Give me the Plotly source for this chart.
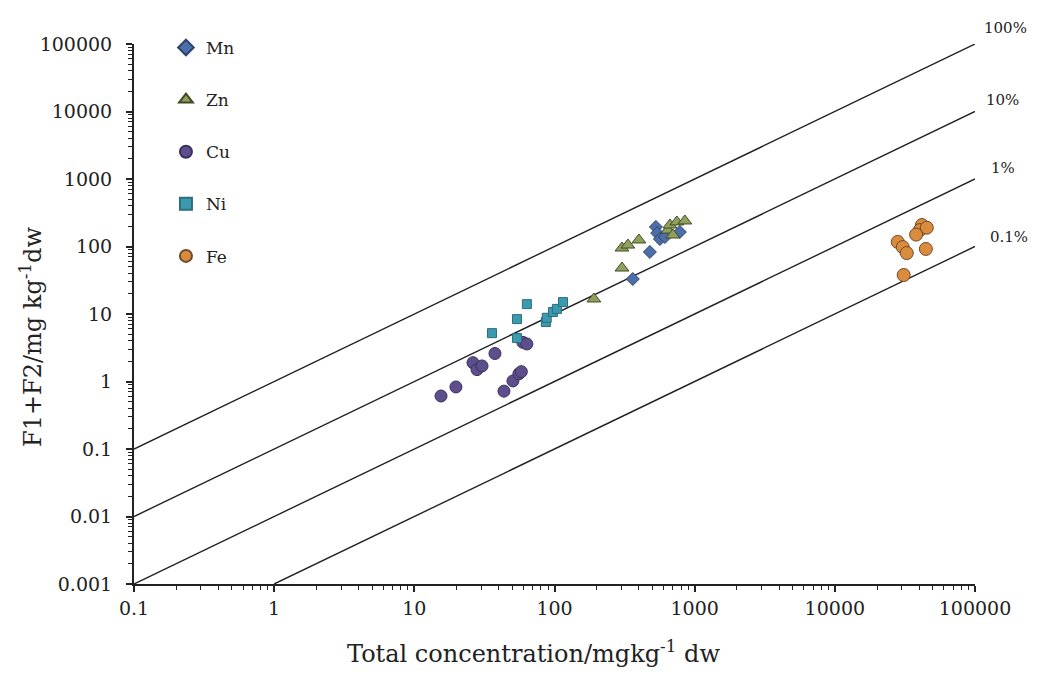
import math
import plotly.graph_objects as go

# ---- data ----
mn_x = [362, 479, 529, 540, 565, 613, 784]
mn_y = [33, 83, 195, 158, 129, 138, 164]

zn_x = [191, 303, 303, 334, 400, 644, 666, 699, 746, 851]
zn_y = [16.7, 48, 95, 105, 125, 175, 208, 148, 231, 239]

cu_x = [15.5, 19.8, 26.2, 28, 30.4, 37.6, 43.6, 50.5, 55.7, 58, 59.5, 63.5]
cu_y = [0.61, 0.83, 1.9, 1.5, 1.7, 2.6, 0.72, 1.02, 1.3, 1.4, 3.8, 3.6]

ni_x = [35.8, 54, 54, 63.5, 86.8, 88, 97.5, 104, 115]
ni_y = [5.2, 8.4, 4.4, 14, 7.6, 8.8, 10.7, 11.9, 15]

fe_x = [41800, 40400, 45300, 38000, 28100, 30500, 32600, 44600, 31000]
fe_y = [208, 175, 190, 150, 117, 98, 80, 92, 37.8]

pct_values = [100, 10, 1, 0.1]
pct_labels = ["100%", "10%", "1%", "0.1%"]

x_ticks = [0.1, 1, 10, 100, 1000, 10000, 100000]
x_ticktext = ["0.1", "1", "10", "100", "1000", "10000", "100000"]
y_ticks = [0.001, 0.01, 0.1, 1, 10, 100, 1000, 10000, 100000]
y_ticktext = ["0.001", "0.01", "0.1", "1", "10", "100", "1000", "10000", "100000"]

x_title = "Total concentration/mgkg<sup>-1</sup> dw"
y_title = "F1+F2/mg kg<sup>-1</sup>dw"

x_min, x_max = 0.1, 100000
y_min = 0.001

serif = "DejaVu Serif"
ink = "#222222"

fig = go.Figure()

# reference lines
for p in pct_values:
    frac = p / 100.0
    x0 = max(x_min, y_min / frac)
    xs = [x0, x_max]
    ys = [x * frac for x in xs]
    fig.add_trace(go.Scatter(x=xs, y=ys, mode="lines",
                             line=dict(color=ink, width=1.4),
                             showlegend=False, hoverinfo="skip"))

series = [
    ("Mn", mn_x, mn_y, "diamond", "#4D6FA8", "#2E4470", 10),
    ("Zn", zn_x, zn_y, "triangle-up", "#8FA15C", "#404A25", 12),
    ("Cu", cu_x, cu_y, "circle", "#5E4F8C", "#3A3060", 12),
    ("Ni", ni_x, ni_y, "square", "#3C9AAE", "#2B6E7E", 9),
    ("Fe", fe_x, fe_y, "circle", "#D98B3E", "#6E4A2A", 13),
]
for name, xs, ys, sym, col, edge, sz in series:
    fig.add_trace(go.Scatter(x=xs, y=ys, mode="markers", name=name,
                             legendgroup=name,
                             marker=dict(symbol=sym, color=col, size=sz,
                                         line=dict(color=edge, width=1))))

# percentage labels next to line ends
shifts = [(30, 16), (27, 12), (28, 11), (34, 10)]
for p, lab, (dx, dy) in zip(pct_values, pct_labels, shifts):
    fig.add_annotation(x=math.log10(x_max), y=math.log10(x_max * p / 100),
                       xref="x", yref="y", text=lab, showarrow=False,
                       xshift=dx, yshift=dy,
                       font=dict(family=serif, size=15, color=ink))

# axis titles (placed as in the reference)
fig.add_annotation(x=(533 - 134) / 841, y=-(652 - 584) / 540, xref="paper", yref="paper",
                   text=x_title, showarrow=False, xanchor="center", yanchor="middle",
                   font=dict(family=serif, size=24, color=ink))
fig.add_annotation(x=-(134 - 31) / 841, y=(584 - 337) / 540, xref="paper", yref="paper",
                   text=y_title, showarrow=False, textangle=-90,
                   xanchor="center", yanchor="middle",
                   font=dict(family=serif, size=24, color=ink))

minor_x = [m * 10 ** e for e in range(-1, 5) for m in range(2, 10)]
minor_y = [m * 10 ** e for e in range(-3, 5) for m in range(2, 10)]

fig.update_layout(
    width=1037, height=680,
    margin=dict(l=134, r=62, t=44, b=96),
    paper_bgcolor="white", plot_bgcolor="white",
    font=dict(family=serif, size=19, color=ink),
    showlegend=True,
    legend=dict(x=0.038, y=1.026, xanchor="left", yanchor="top",
                bgcolor="rgba(0,0,0,0)", font=dict(family=serif, size=17),
                itemsizing="constant", itemwidth=30,
                tracegroupgap=27, traceorder="grouped"),
)
fig.update_xaxes(type="log", range=[-1, 5], showgrid=False, zeroline=False,
                 showline=True, linecolor=ink, linewidth=2,
                 ticks="outside", ticklen=6, tickwidth=1.5, tickcolor=ink,
                 tickvals=x_ticks, ticktext=x_ticktext,
                 tickfont=dict(family=serif, size=19, color=ink),
                 minor=dict(ticks="outside", ticklen=4, tickwidth=1, tickcolor=ink,
                            tickvals=minor_x, showgrid=False))
fig.update_yaxes(type="log", range=[-3, 5], showgrid=False, zeroline=False,
                 showline=True, linecolor=ink, linewidth=2,
                 ticks="outside", ticklen=6, tickwidth=1.5, tickcolor=ink,
                 tickvals=y_ticks, ticktext=y_ticktext, ticklabelstandoff=10,
                 tickfont=dict(family=serif, size=19, color=ink),
                 minor=dict(ticks="outside", ticklen=4, tickwidth=1, tickcolor=ink,
                            tickvals=minor_y, showgrid=False))

fig.write_html("out.html")
